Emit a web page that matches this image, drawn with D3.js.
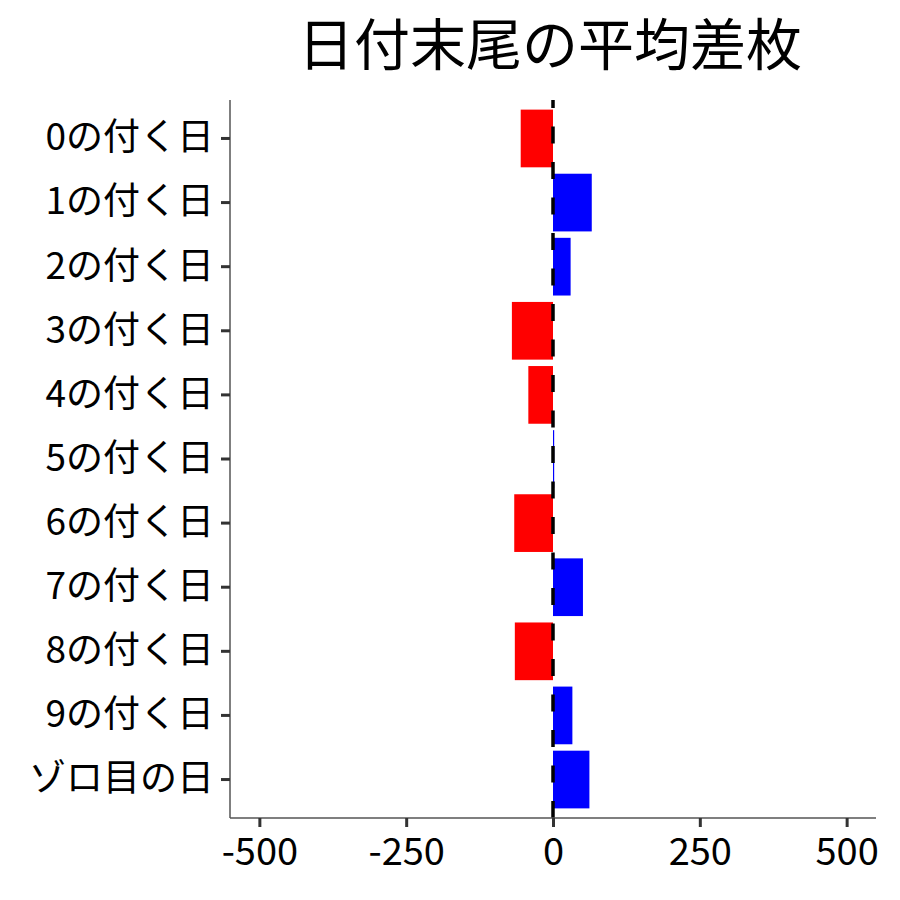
<!DOCTYPE html>
<meta charset="utf-8">
<body style="margin:0;background:#fff">
<script src="https://d3js.org/d3.v7.min.js"></script>
<script>
// data
var categories = ["0の付く日", "1の付く日", "2の付く日", "3の付く日", "4の付く日",
                  "5の付く日", "6の付く日", "7の付く日", "8の付く日", "9の付く日", "ゾロ目の日"];
var meanDiff = [-55, 66, 30, -70, -42, 2, -66, 51, -65, 33, 62];
var xTicks = [-500, -250, 0, 250, 500];
var title = "日付末尾の平均差枚";

var width = 900, height = 900;
var padLeft = 230, padRight = 876, padTop = 100, padBottom = 818;
var font = "'Noto Sans CJK JP', 'Noto Sans', sans-serif";

var svg = d3.select("body").append("svg")
    .attr("width", width)
    .attr("height", height)
    .style("font-family", font);

var x = d3.scaleLinear().domain([-550, 550]).range([padLeft, padRight]);

var y = d3.scaleBand()
    .domain(categories)
    .range([padTop, padBottom])
    .paddingInner(0.1)
    .paddingOuter(0.15);

// bars
svg.selectAll("rect.bar")
    .data(meanDiff)
    .enter()
    .append("rect")
    .attr("class", "bar")
    .attr("x", function(d) { return x(Math.min(0, d)); })
    .attr("y", function(d, i) { return y(categories[i]); })
    .attr("width", function(d) { return Math.abs(x(d) - x(0)); })
    .attr("height", y.bandwidth())
    .attr("fill", function(d) { return d < 0 ? "#ff0000" : "#0000ff"; });

// dashed zero line
svg.append("line")
    .attr("x1", x(0)).attr("x2", x(0))
    .attr("y1", padTop).attr("y2", padBottom)
    .attr("stroke", "#000")
    .attr("stroke-width", 3.5)
    .attr("stroke-dasharray", "17,18.5")
    .attr("stroke-dashoffset", 9);

// x axis
var xAxis = svg.append("g")
    .attr("transform", "translate(0," + padBottom + ")")
    .call(d3.axisBottom(x).tickValues(xTicks).tickSize(9).tickPadding(8).tickFormat(d3.format("d")));
xAxis.select(".domain").attr("stroke", "#555").attr("stroke-width", 1.5)
    .attr("d", "M" + padLeft + ",0H" + padRight);
xAxis.selectAll(".tick line").attr("stroke", "#333").attr("stroke-width", 3);
xAxis.selectAll(".tick text")
    .attr("fill", "#000")
    .style("font-family", font)
    .style("font-size", "38px")
    .attr("dy", "0.8em")
    .text(function(d) { return d < 0 ? "-" + Math.abs(d) : d; });

// y axis
var yAxis = svg.append("g")
    .attr("transform", "translate(" + padLeft + ",0)")
    .call(d3.axisLeft(y).tickSize(9).tickPadding(7));
yAxis.select(".domain").attr("stroke", "#555").attr("stroke-width", 1.5)
    .attr("d", "M0," + padTop + "V" + padBottom);
yAxis.selectAll(".tick line").attr("stroke", "#333").attr("stroke-width", 3);
yAxis.selectAll(".tick text")
    .attr("fill", "#000")
    .style("font-family", font)
    .style("font-size", "37px");

// title
svg.append("text")
    .attr("x", (padLeft + padRight) / 2 - 3)
    .attr("y", 65)
    .attr("text-anchor", "middle")
    .style("font-size", "56px")
    .text(title);
</script>
</body>
</html>
